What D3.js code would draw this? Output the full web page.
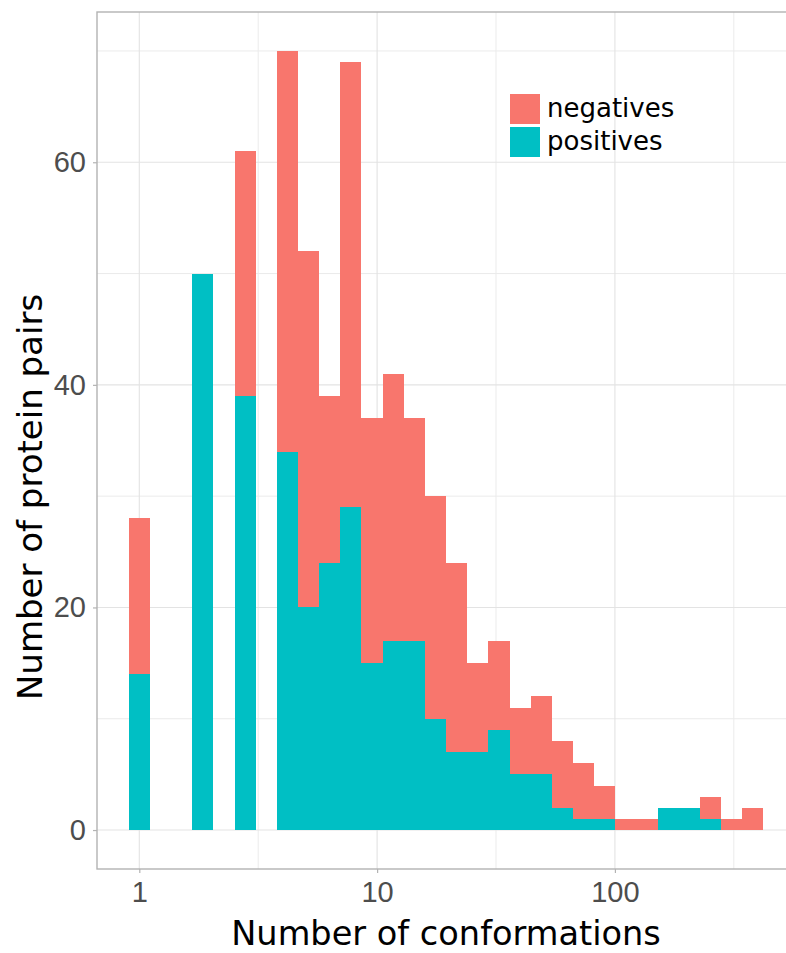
<!DOCTYPE html>
<html>
<head>
<meta charset="utf-8">
<script src="https://cdn.jsdelivr.net/npm/d3@7"></script>
<style>
  html, body { margin: 0; padding: 0; background: #ffffff; }
  svg { display: block; }
</style>
</head>
<body>
<svg id="chart" width="786" height="953"></svg>
<script>
// Histogram of conformation counts (log10 bins), stacked by class
const nBins = 30;
const maxConformations = 380;          // upper end of the binned range
const negatives = [14, 0, 0, 0, 0, 22, 0, 36, 32, 15, 40, 22, 24, 20, 20, 17, 8, 8, 6, 7, 6, 5, 3, 1, 1, 0, 0, 2, 1, 2];
const positives = [14, 0, 0, 50, 0, 39, 0, 34, 20, 24, 29, 15, 17, 17, 10, 7, 7, 9, 5, 5, 2, 1, 1, 0, 0, 2, 2, 1, 0, 0];
const seriesNames = ["negatives", "positives"];
const seriesColors = ["#F8766D", "#00BFC4"];
const xTicks = [1, 10, 100];
const xMinorTicks = [Math.sqrt(10), Math.sqrt(1000), Math.sqrt(100000)];
const yTicks = [0, 20, 40, 60];
const yMinorTicks = [10, 30, 50, 70];
const xTitle = "Number of conformations";
const yTitle = "Number of protein pairs";

const svg = d3.select("#chart");
const panel = { left: 97, top: 12, bottom: 869 };

// bin geometry in log10 space: first bin centred on 1, last on maxConformations
const binW = Math.log10(maxConformations) / (nBins - 1);
const lo = -binW / 2, hi = Math.log10(maxConformations) + binW / 2;
const pad = (hi - lo) * 0.05;
const pxPerDecade = 237.8;
const panelRight = panel.left + (hi - lo + 2 * pad) * pxPerDecade;

const x = d3.scaleLog()
  .domain([Math.pow(10, lo - pad), Math.pow(10, hi + pad)])
  .range([panel.left, panelRight]);

const ymaxTotal = d3.max(negatives.map((v, i) => v + positives[i]));
const y = d3.scaleLinear()
  .domain([-ymaxTotal * 0.05, ymaxTotal * 1.05])
  .range([panel.bottom, panel.top]);

// grid
const grid = svg.append("g");
grid.selectAll("line.ymin").data(yMinorTicks).join("line")
  .attr("x1", panel.left).attr("x2", panelRight)
  .attr("y1", d => y(d)).attr("y2", d => y(d))
  .attr("stroke", "#ebebeb").attr("stroke-width", 1);
grid.selectAll("line.xmin").data(xMinorTicks).join("line")
  .attr("x1", d => x(d)).attr("x2", d => x(d))
  .attr("y1", panel.top).attr("y2", panel.bottom)
  .attr("stroke", "#ebebeb").attr("stroke-width", 1);
grid.selectAll("line.ymaj").data(yTicks).join("line")
  .attr("x1", panel.left).attr("x2", panelRight)
  .attr("y1", d => y(d)).attr("y2", d => y(d))
  .attr("stroke", "#e3e3e3").attr("stroke-width", 1.1);
grid.selectAll("line.xmaj").data(xTicks).join("line")
  .attr("x1", d => x(d)).attr("x2", d => x(d))
  .attr("y1", panel.top).attr("y2", panel.bottom)
  .attr("stroke", "#e3e3e3").attr("stroke-width", 1.1);

// stacked bars
const rows = negatives.map((neg, i) => ({ i, negatives: neg, positives: positives[i] }));
const stack = d3.stack().keys(["positives", "negatives"]);
const layers = stack(rows);
const binEdge = (i, s) => Math.pow(10, i * binW + s * binW / 2);

svg.append("g").selectAll("g").data(layers).join("g")
  .attr("fill", d => seriesColors[seriesNames.indexOf(d.key)])
  .selectAll("rect").data(d => d.filter(p => p[1] > p[0])).join("rect")
  .attr("x", d => x(binEdge(d.data.i, -1)))
  .attr("width", d => x(binEdge(d.data.i, 1)) - x(binEdge(d.data.i, -1)))
  .attr("y", d => y(d[1]))
  .attr("height", d => y(d[0]) - y(d[1]))
  .attr("shape-rendering", "crispEdges");

// panel border
svg.append("rect")
  .attr("x", panel.left).attr("y", panel.top)
  .attr("width", panelRight - panel.left).attr("height", panel.bottom - panel.top)
  .attr("fill", "none").attr("stroke", "#b3b3b3").attr("stroke-width", 1.4);

// axes
const tickFont = "'Liberation Sans', Arial, sans-serif";
const yAxis = svg.append("g")
  .attr("transform", `translate(${panel.left},0)`)
  .call(d3.axisLeft(y).tickValues(yTicks).tickSize(4).tickPadding(7).tickFormat(d3.format("d")));
const xAxis = svg.append("g")
  .attr("transform", `translate(0,${panel.bottom})`)
  .call(d3.axisBottom(x).tickValues(xTicks).tickSize(4).tickPadding(8).tickFormat(d3.format("d")));
[xAxis, yAxis].forEach(a => {
  a.select(".domain").remove();
  a.selectAll(".tick line").attr("stroke", "#b3b3b3").attr("stroke-width", 1.2);
  a.selectAll(".tick text")
    .attr("fill", "#4d4d4d")
    .style("font-family", tickFont)
    .style("font-size", "29px");
});

// axis titles
const titleFont = "'DejaVu Sans', sans-serif";
svg.append("text")
  .attr("x", (panel.left + panelRight) / 2).attr("y", 945)
  .attr("text-anchor", "middle")
  .style("font-family", titleFont).style("font-size", "33.6px")
  .attr("fill", "#000")
  .text(xTitle);
svg.append("text")
  .attr("transform", "translate(42,497) rotate(-90)")
  .attr("text-anchor", "middle")
  .style("font-family", titleFont).style("font-size", "34px")
  .attr("fill", "#000")
  .text(yTitle);

// legend
const legend = svg.append("g").attr("transform", "translate(510,94)");
seriesNames.forEach((name, k) => {
  const g = legend.append("g").attr("transform", `translate(0,${k * 33})`);
  g.append("rect").attr("width", 30).attr("height", 30).attr("fill", seriesColors[k]);
  g.append("text")
    .attr("x", 37).attr("y", 23)
    .style("font-family", titleFont).style("font-size", "26px")
    .attr("fill", "#000")
    .text(name);
});
</script>
</body>
</html>
